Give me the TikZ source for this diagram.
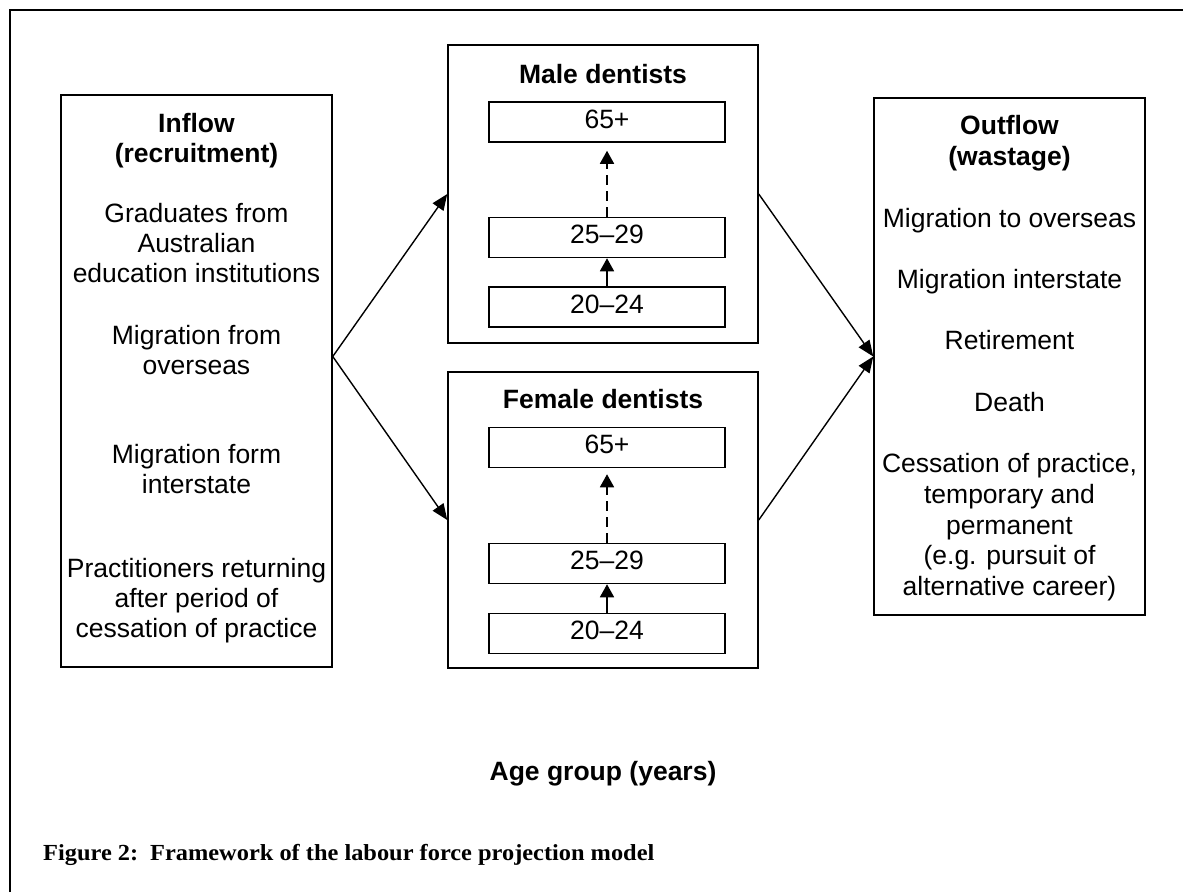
\documentclass[tikz,border=0pt]{standalone}
\usepackage{fontspec}
\setmainfont{Liberation Sans}
\newfontfamily\capfont[FakeStretch=1.06]{Liberation Serif}
\usetikzlibrary{arrows.meta}
\begin{document}
\begin{tikzpicture}[x=1pt,y=-1pt,
	box/.style={draw,line width=1.5pt,inner sep=0pt},
	agebox/.style={box,minimum width=236pt,minimum height=40pt,text height=19pt,text depth=7pt,font=\fontsize{26.5}{30}\selectfont},
	txt/.style={inner sep=0pt,align=center,font=\fontsize{26.5}{30}\selectfont},
	head/.style={txt,font=\bfseries\fontsize{26.5}{30}\selectfont},
	flow/.style={-{Triangle[length=16pt,width=13pt]},line width=1.4pt},
	ageup/.style={-{Triangle[length=13pt,width=14pt]},line width=1.6pt}]
	\useasboundingbox (0,0) rectangle (1183,892);
	\draw[line width=2.5pt] (10,892) -- (10,10) -- (1183,10);
	\node[box,minimum width=271pt,minimum height=572pt] (inflow) at (196.5,381) {};
	\node[txt,anchor=north] (intext) at (196.5,113) {{\bfseries Inflow}\\{\bfseries (recruitment)}\\[30pt]
		Graduates from\\Australian\\education institutions\\[32pt]
		Migration from\\overseas\\[59pt]
		Migration form\\interstate\\[54pt]
		Practitioners returning\\after period of\\cessation of practice};
	\node[box,minimum width=310pt,minimum height=298pt] (male) at (603,194) {};
	\node[head] (maletitle) at (603,74) {Male dentists};
	\node[agebox] (m65) at (607,122) {65+};
	\node[agebox] (m2529) at (607,237.5) {25--29};
	\node[agebox] (m2024) at (607,307) {20--24};
	\node[box,minimum width=310pt,minimum height=296pt] (female) at (603,520) {};
	\node[head] (femaletitle) at (603,399) {Female dentists};
	\node[agebox] (f65) at (607,447.5) {65+};
	\node[agebox] (f2529) at (607,563.5) {25--29};
	\node[agebox] (f2024) at (607,633.5) {20--24};
	\node[box,minimum width=271pt,minimum height=517pt] (outflow) at (1009.5,356.5) {};
	\node[txt,anchor=north,font=\fontsize{26.5}{30.7}\selectfont] (outtext) at (1009.5,115.5) {{\bfseries Outflow}\\{\bfseries (wastage)}\\[30.7pt]
		Migration to overseas\\[30.7pt]
		Migration interstate\\[30.7pt]
		Retirement\\[30.7pt]
		Death\\[30.7pt]
		Cessation of practice,\\temporary and\\permanent\\(e.g. pursuit of\\alternative career)};
	\draw[flow] (inflow.east |- outflow.west) -- (male.west);
	\draw[flow] (inflow.east |- outflow.west) -- (female.west);
	\draw[flow] (male.east) -- (outflow.west);
	\draw[flow] (female.east) -- (outflow.west);
	\draw[ageup] (m2024.north) -- (m2529.south);
	\draw[ageup,dash pattern=on 10pt off 6pt,shorten >=8pt] (m2529.north) -- (m65.south);
	\draw[ageup] (f2024.north) -- (f2529.south);
	\draw[ageup,dash pattern=on 10pt off 6pt,shorten >=6pt] (f2529.north) -- (f65.south);
	\node[head] (agegroup) at (603,774) {Age group (years)};
	\node[anchor=base west,inner sep=0pt,font=\capfont\bfseries\fontsize{23}{28}\selectfont] (fignum) at (43,860) {Figure 2:};
	\node[anchor=base west,inner sep=0pt,font=\capfont\bfseries\fontsize{23}{28}\selectfont] (figtitle) at (150,860) {Framework of the labour force projection model};
\end{tikzpicture}
\end{document}
